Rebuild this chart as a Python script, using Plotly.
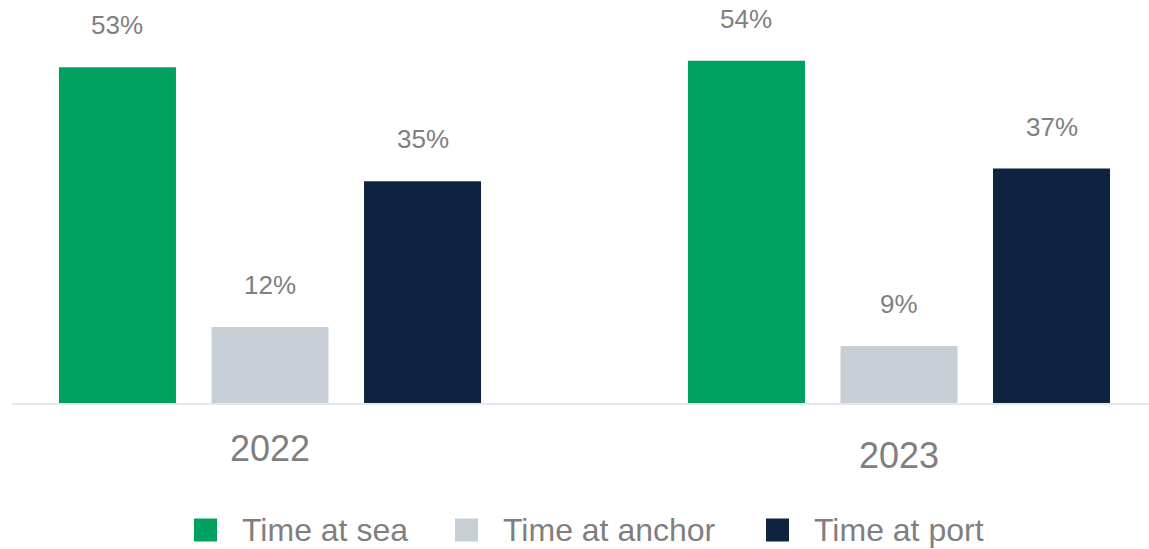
import plotly.graph_objects as go

# ---- data ----
years = ["2022", "2023"]
series_names = ["Time at sea", "Time at anchor", "Time at port"]
time_at_sea = [53, 54]
time_at_anchor = [12, 9]
time_at_port = [35, 37]

colors = ["#00A060", "#C8CED6", "#0E2340"]
text_color = "#7F7F7F"
font_family = "Liberation Sans, Arial, sans-serif"

W, H = 1149, 549
margin_l, margin_r, margin_t, margin_b = 12, 0, 0, 146
plot_w = W - margin_l - margin_r
plot_h = H - margin_t - margin_b

# group layout in x units (one unit per year)
slot = 0.2425      # distance between bar centres inside a group
bar_w = 0.186      # bar width
x_range = [-0.4102, 1.3975]
y_range = [0, 63.6]

series_values = [time_at_sea, time_at_anchor, time_at_port]

fig = go.Figure()
annotations = []
for i, (name, vals, col) in enumerate(zip(series_names, series_values, colors)):
    xs = [g + (i - 1) * slot for g in range(len(years))]
    fig.add_trace(go.Bar(
        x=xs, y=vals, width=bar_w, name=name,
        marker=dict(color=col, line=dict(width=0)),
        showlegend=False, hoverinfo="skip",
    ))
    for x, v in zip(xs, vals):
        annotations.append(dict(
            x=x, y=v, xref="x", yref="y", text=f"{v}%", showarrow=False,
            yanchor="middle", xanchor="center", yshift=42,
            font=dict(size=26, color=text_color, family=font_family),
        ))

# year labels under each group
year_shifts = [-45, -52]
for g, (yr, ys) in enumerate(zip(years, year_shifts)):
    annotations.append(dict(
        x=g, y=0, xref="x", yref="y", text=yr, showarrow=False,
        yanchor="middle", xanchor="center", yshift=ys,
        font=dict(size=36, color=text_color, family=font_family),
    ))


def px_to_paper_x(px):
    return (px - margin_l) / plot_w


def px_to_paper_y(py):
    return (H - margin_b - py) / plot_h


# legend row drawn below the plot
legend_left = [194, 455, 766]
sq = 23
legend_cy = 530
shapes = []
for left, name, col in zip(legend_left, series_names, colors):
    shapes.append(dict(
        type="rect", xref="paper", yref="paper",
        x0=px_to_paper_x(left), x1=px_to_paper_x(left + sq),
        y0=px_to_paper_y(legend_cy + sq / 2), y1=px_to_paper_y(legend_cy - sq / 2),
        fillcolor=col, line=dict(width=0), layer="above",
    ))
    annotations.append(dict(
        x=px_to_paper_x(left + sq + 23), y=px_to_paper_y(legend_cy),
        xref="paper", yref="paper", text=name, showarrow=False,
        xanchor="left", yanchor="middle",
        font=dict(size=32, color=text_color, family=font_family),
    ))

fig.update_layout(
    width=W, height=H,
    margin=dict(l=margin_l, r=margin_r, t=margin_t, b=margin_b, pad=0),
    paper_bgcolor="white", plot_bgcolor="white",
    barmode="overlay",
    showlegend=False,
    xaxis=dict(range=x_range, showgrid=False, zeroline=False, showticklabels=False,
               ticks="", showline=True, linecolor="#E3E7EE", linewidth=2,
               layer="below traces", fixedrange=True),
    yaxis=dict(range=y_range, showgrid=False, zeroline=False, showticklabels=False,
               ticks="", showline=False, fixedrange=True),
    annotations=annotations,
    shapes=shapes,
    font=dict(family=font_family, color=text_color),
)

fig.write_html("out.html", config={"displayModeBar": False})
